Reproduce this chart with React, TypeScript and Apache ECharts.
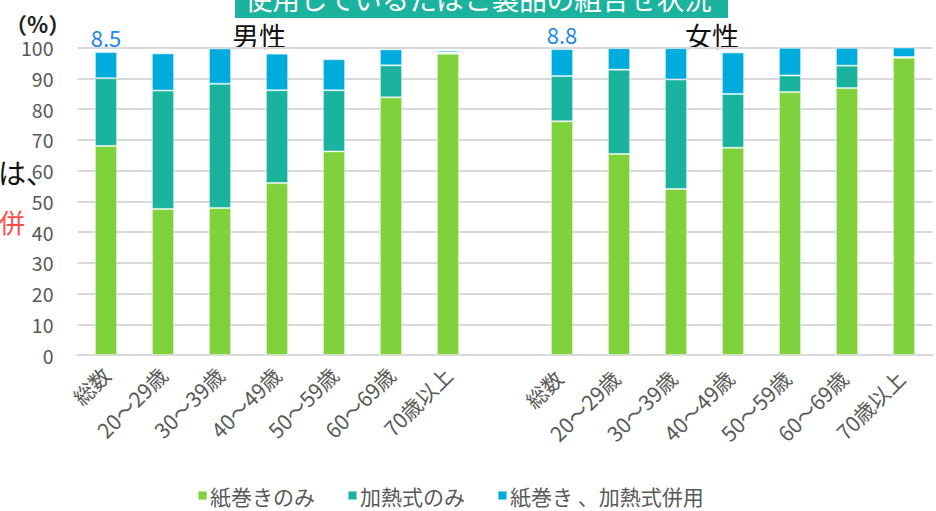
import React, { useEffect, useRef } from "react";
import * as echarts from "echarts";

const ageGroups = ["総数", "20～29歳", "30～39歳", "40～49歳", "50～59歳", "60～69歳", "70歳以上"];
const categories = [...ageGroups, "", ...ageGroups.map((a) => a + " ")];

const yTicks = { min: 0, max: 100, interval: 10 };

// 男性
const menCigOnly = [68, 47.5, 47.8, 55.9, 66.2, 83.8, 98.0];
const menHeatedOnly = [22, 38.5, 40.4, 30.2, 19.9, 10.4, 0.4];
const menBoth = [8.5, 12.1, 11.5, 11.9, 10.1, 5.2, 0.6];

// 女性
const womenCigOnly = [76, 65.4, 54, 67.4, 85.5, 86.8, 96.7];
const womenHeatedOnly = [14.7, 27.4, 35.6, 17.5, 5.4, 7.3, 0.2];
const womenBoth = [8.8, 7.0, 10.2, 13.5, 9.0, 5.8, 3.1];

const seriesNames = ["紙巻きのみ", "加熱式のみ", "紙巻き 、加熱式併用"];
const colors = ["#80d23c", "#1ab39e", "#00acdc"];
const labelIndices = [0, 8];

const join = (a: number[], b: number[]) => [...a, null, ...b];

const FONT = "'Noto Sans CJK JP', 'Noto Sans', sans-serif";

export default function App() {
  const ref = useRef<HTMLDivElement>(null);
  useEffect(() => {
    if (!ref.current) return;
    const chart = echarts.init(ref.current, undefined, { renderer: "svg" });
    const datasets = [
      join(menCigOnly, womenCigOnly),
      join(menHeatedOnly, womenHeatedOnly),
      join(menBoth, womenBoth),
    ];
    const series = datasets.map((d, i) => ({
      name: seriesNames[i],
      type: "bar",
      stack: "total",
      barWidth: "39%",
      itemStyle: { color: colors[i], borderColor: "rgba(255,255,255,0.45)", borderWidth: 1 },
      data: d.map((v, j) =>
        i === 2 && labelIndices.includes(j)
          ? {
              value: v,
              label: {
                show: true,
                position: "top",
                distance: 4,
                color: "#1e88e5",
                fontSize: 22,
                fontFamily: FONT,
                formatter: "{c}",
              },
            }
          : v
      ),
    }));
    chart.setOption({
      animation: false,
      textStyle: { fontFamily: FONT },
      grid: { left: 77.5, right: 3.5, top: 47.5, bottom: 156, containLabel: false },
      legend: {
        left: 192,
        bottom: 0,
        itemWidth: 9,
        itemHeight: 9,
        itemGap: 32,
        icon: "rect",
        textStyle: { color: "#595959", fontSize: 21, fontFamily: FONT, padding: [0, 0, 0, -2] },
        data: seriesNames,
      },
      xAxis: {
        type: "category",
        data: categories,
        axisTick: { show: false },
        axisLine: { lineStyle: { color: "#d9d9d9", width: 2 } },
        axisLabel: {
          interval: 0,
          rotate: 45,
          color: "#595959",
          fontSize: 21,
          margin: 16,
          fontFamily: FONT,
        },
      },
      yAxis: {
        type: "value",
        min: yTicks.min,
        max: yTicks.max,
        interval: yTicks.interval,
        axisLine: { show: false },
        axisTick: { show: false },
        splitLine: { lineStyle: { color: "#d9d9d9", width: 2 } },
        axisLabel: { color: "#595959", fontSize: 19.5, margin: 24, fontFamily: FONT },
      },
      graphic: [
        {
          type: "rect",
          shape: { x: 235, y: -10, width: 493, height: 28 },
          style: { fill: "#1bb39d" },
        },
        {
          type: "text",
          x: 245,
          y: -2,
          style: {
            text: "使用しているたばこ製品の組合せ状況",
            fill: "#ffffff",
            fontSize: 27.5,
            fontFamily: FONT,
            verticalAlign: "middle",
            align: "left",
          },
        },
        {
          type: "text",
          x: 5,
          y: 23,
          style: {
            text: "（%）",
            fill: "#222222",
            fontSize: 22,
            fontWeight: "bold",
            fontFamily: FONT,
            verticalAlign: "middle",
            align: "left",
          },
        },
        {
          type: "text",
          x: 232,
          y: 35,
          style: { text: "男性", fill: "#111111", fontSize: 27, fontFamily: FONT, verticalAlign: "middle" },
        },
        {
          type: "text",
          x: 685,
          y: 35,
          style: { text: "女性", fill: "#111111", fontSize: 27, fontFamily: FONT, verticalAlign: "middle" },
        },
        {
          type: "text",
          x: 54,
          y: 172,
          style: { text: "ては、", fill: "#111111", fontSize: 28, fontFamily: FONT, verticalAlign: "middle", align: "right" },
        },
        {
          type: "text",
          x: 25,
          y: 221,
          style: { text: "式併", fill: "#ff4d4d", fontSize: 26, fontFamily: FONT, verticalAlign: "middle", align: "right" },
        },
      ],
      series,
    });
    return () => chart.dispose();
  }, []);
  return <div ref={ref} style={{ width: 936, height: 511, position: "absolute", left: 0, top: 0 }} />;
}
